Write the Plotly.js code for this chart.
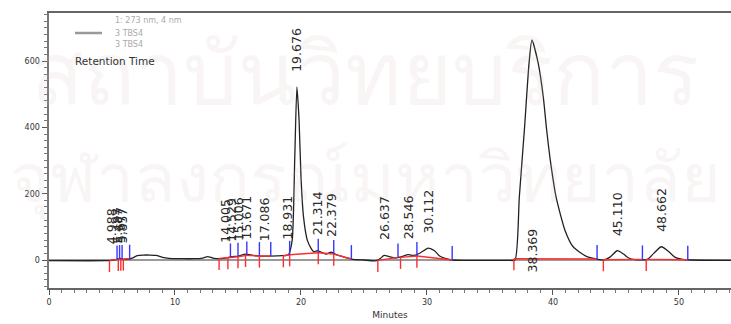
<!DOCTYPE html>
<html>
<head>
<meta charset="utf-8">
<script src="https://cdn.plot.ly/plotly-3.0.1.min.js"></script>
<style>html,body{margin:0;padding:0;background:#fff;}#chart{width:731px;height:324px;}</style>
</head>
<body>
<div id="chart"></div>
<script>
// Chromatogram trace (minutes, mAU)
const timeMin = [0, 4.5, 5.0, 5.4, 5.6, 5.8, 6.2, 6.6, 7.0, 7.5, 8.0, 8.5, 9.0, 9.5, 10.5, 11.5, 12.2, 12.6, 13.0, 13.5,
  14.0, 14.5, 15.0, 15.6, 16.2, 16.8, 17.5, 18.5, 19.0, 19.3, 19.5, 19.676, 19.85, 20.0, 20.2, 20.5, 20.8, 21.0, 21.3, 21.7,
  22.0, 22.4, 22.8, 23.3, 24.0, 25.0, 26.0, 26.3, 26.6, 27.0, 27.5, 28.0, 28.5, 29.0, 29.5, 30.1, 30.6, 31.0, 31.5, 32.0,
  33.0, 36.5, 36.98, 37.33, 37.73, 38.1, 38.33, 38.83, 39.23, 39.5, 39.82, 40.24, 40.95, 41.6, 42.7, 44.0, 44.5, 45.1, 45.6, 46.0,
  46.5, 47.5, 48.0, 48.6, 49.2, 49.7, 50.3, 51.0, 54.2];
const signal = [-2, -2, -1, 2, 5, 3, 2, 6, 13, 15, 15, 14, 8, 5, 4, 4, 6, 10, 6, 4,
  6, 10, 12, 18, 14, 12, 12, 13, 16, 60, 300, 522, 420, 250, 130, 60, 35, 25, 28, 22,
  18, 24, 16, 10, 3, 0, -2, 5, 14, 10, 6, 10, 16, 14, 22, 36, 28, 12, 4, 0,
  -1, -1, 0, 191, 392, 593, 663, 593, 492, 392, 292, 191, 90, 40, 10, 0, 8, 28, 18, 6,
  1, 2, 20, 40, 25, 8, 2, 0, -1];

// Integrated peaks
const peakTimes = [4.988, 5.487, 5.677, 5.857, 14.005, 14.529, 15.006, 15.671, 17.086, 18.931,
  19.676, 21.314, 22.379, 26.637, 28.546, 30.112, 38.369, 45.110, 48.662];
const peakLabels = ["4.988", "5.487", "5.677", "5.857", "14.005", "14.529", "15.006", "15.671", "17.086", "18.931",
  "19.676", "21.314", "22.379", "26.637", "28.546", "30.112", "38.369", "45.110", "48.662"];
const peakHeights = [2, 4, 5, 4, 8, 10, 12, 18, 12, 15, 522, 28, 24, 14, 16, 36, 663, 28, 40];
const peakStart = [4.8, 5.5, 5.7, 5.9, 13.5, 14.2, 15.0, 15.6, 16.7, 18.6, 19.1, 21.37, 22.6, 26.1, 27.9, 29.2, 36.9, 44.0, 47.4];
const peakEnd = [5.4, 5.6, 5.8, 6.4, 14.4, 15.0, 15.7, 16.7, 17.6, 19.1, 21.37, 22.6, 24.0, 27.7, 29.2, 32.0, 43.5, 47.1, 50.7];
const baseStart = [-1, 2, 3, 3, 5, 7, 10, 14, 12, 13, 16, 22, 18, -1, 8, 12, 4, 1, 2];
const baseEnd = [2, 3, 3, 4, 8, 10, 14, 12, 12, 16, 22, 18, 3, 8, 12, 0, 3, 2, 1];

const xTicks = [0, 10, 20, 30, 40, 50];
const yTicks = [0, 200, 400, 600];

// build integration marks
const RED = 'rgb(255,45,45)', BLUE = 'rgb(55,55,255)';
const redTickLen = 35, blueTickLen = 42;
const bx = [], by = [], rx = [], ry = [], ux = [], uy = [];
for (let i = 0; i < peakTimes.length; i++) {
  bx.push(peakStart[i], peakEnd[i], null); by.push(baseStart[i], baseEnd[i], null);
  rx.push(peakStart[i], peakStart[i], null); ry.push(baseStart[i], baseStart[i] - redTickLen, null);
  ux.push(peakEnd[i], peakEnd[i], null); uy.push(baseEnd[i], baseEnd[i] + blueTickLen, null);
}

const traces = [
  {x: timeMin, y: signal, mode: 'lines', line: {color: '#222', width: 1.3, shape: 'spline', smoothing: 0.6}, hoverinfo: 'skip'},
  {x: bx, y: by, mode: 'lines', line: {color: RED, width: 1.4}, hoverinfo: 'skip'},
  {x: rx, y: ry, mode: 'lines', line: {color: RED, width: 1.4}, hoverinfo: 'skip'},
  {x: ux, y: uy, mode: 'lines', line: {color: BLUE, width: 1.4}, hoverinfo: 'skip'}
];

const annotations = [];
// watermark
annotations.push({xref: 'paper', yref: 'paper', x: (365 - 49) / 682, y: 0.79, text: 'สถาบันวิทยบริการ', showarrow: false,
  font: {family: 'Noto Sans, DejaVu Sans', size: 86, color: 'rgba(215,185,185,0.15)'}, xanchor: 'center', yanchor: 'middle'});
annotations.push({xref: 'paper', yref: 'paper', x: (365 - 49) / 682, y: 0.41, text: 'จุฬาลงกรณ์มหาวิทยาลัย', showarrow: false,
  font: {family: 'Noto Sans, DejaVu Sans', size: 68, color: 'rgba(215,185,185,0.15)'}, xanchor: 'center', yanchor: 'middle'});

for (let i = 0; i < peakTimes.length; i++) {
  const big = peakHeights[i] > 600;
  annotations.push({
    x: peakTimes[i], y: big ? 30 : peakHeights[i], xref: 'x', yref: 'y',
    text: peakLabels[i], showarrow: false, textangle: -90,
    xanchor: 'center', yanchor: big ? 'middle' : 'bottom', yshift: big ? 0 : 13,
    font: {family: 'DejaVu Sans', size: 12.5, color: '#2a2a2a'}
  });
}
// legend block
const lg = {family: 'DejaVu Sans', size: 8, color: '#aaa'};
annotations.push({xref: 'paper', yref: 'paper', x: 64/682, y: 1 - 8/275, text: '1: 273 nm, 4 nm', showarrow: false, xanchor: 'left', yanchor: 'middle', font: lg});
annotations.push({xref: 'paper', yref: 'paper', x: 64/682, y: 1 - 20/275, text: '3 TBS4', showarrow: false, xanchor: 'left', yanchor: 'middle', font: lg});
annotations.push({xref: 'paper', yref: 'paper', x: 64/682, y: 1 - 31/275, text: '3 TBS4', showarrow: false, xanchor: 'left', yanchor: 'middle', font: lg});
annotations.push({xref: 'paper', yref: 'paper', x: 24/682, y: 1 - 48/275, text: 'Retention Time', showarrow: false, xanchor: 'left', yanchor: 'middle',
  font: {family: 'DejaVu Sans', size: 10.5, color: '#333'}});

const layout = {
  width: 731, height: 324,
  margin: {l: 49, r: 0, t: 13, b: 36, pad: 0},
  paper_bgcolor: '#fff', plot_bgcolor: '#fff',
  showlegend: false,
  font: {family: 'DejaVu Sans', size: 8, color: '#333'},
  xaxis: {
    range: [0, 54.13], tickmode: 'array', tickvals: xTicks, ticktext: xTicks.map(String),
    ticks: 'outside', ticklen: 5, tickwidth: 1, tickcolor: '#555',
    minor: {dtick: 1, tick0: 0, ticks: 'outside', ticklen: 2.5, tickcolor: '#777', showgrid: false},
    showline: true, linecolor: '#666', linewidth: 2, mirror: true,
    showgrid: false, zeroline: false,
    tickfont: {size: 8, color: '#333'},
    title: {text: 'Minutes', font: {size: 9, color: '#333'}, standoff: 6}
  },
  yaxis: {
    range: [-84.4, 745], tickmode: 'array', tickvals: yTicks, ticktext: yTicks.map(String),
    ticks: 'outside', ticklen: 5, tickwidth: 1, tickcolor: '#555',
    minor: {dtick: 20, tick0: 0, ticks: 'outside', ticklen: 2.5, tickcolor: '#777', showgrid: false},
    showline: true, linecolor: '#777', linewidth: 2.5,
    showgrid: false, zeroline: true, zerolinecolor: '#9a9a9a', zerolinewidth: 2,
    tickfont: {size: 8, color: '#333'}
  },
  shapes: [
    {type: 'line', xref: 'paper', yref: 'paper', x0: 26/682, x1: 53/682, y0: 1 - 20/275, y1: 1 - 20/275, line: {color: '#999', width: 2.5}}
  ],
  annotations: annotations
};

Plotly.newPlot('chart', traces, layout, {displayModeBar: false, staticPlot: true});
</script>
</body>
</html>
